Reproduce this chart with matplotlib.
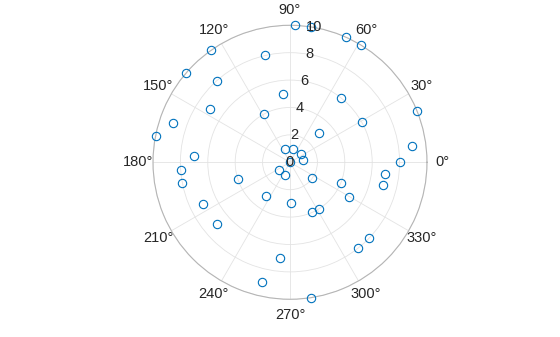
import numpy as np
import matplotlib
matplotlib.use('Agg')
import matplotlib.pyplot as plt

# scatter data (angle in degrees, radius)
theta_deg = [88, 81, 66, 59, 51.5, 22, 29, 45, 7.5, 0,
             353, 346, 337.5, 330, 324, 301.5, 294, 316, 308.5, 279,
             271.5, 264, 257, 235, 220, 205.5, 198, 191, 184, 214,
             249, 176, 169, 161.5, 146.5, 118, 96, 132, 139.5, 125,
             103, 111, 76, 37, 10.5, 0]
rho = [10, 10, 10, 10, 6, 10, 6, 3, 9, 8,
       7, 7, 4, 5, 2, 4, 4, 8, 8, 10,
       3, 7, 9, 3, 7, 7, 4, 8, 8, 1,
       1, 7, 10, 9, 7, 4, 5, 8, 10, 10,
       8, 1, 1, 1, 1, 0]

r_ticks = [0, 2, 4, 6, 8, 10]
theta_ticks = [0, 30, 60, 90, 120, 150, 180, 210, 240, 270, 300, 330]
theta_labels = [f'{t}°' for t in theta_ticks]

plt.rcParams['font.family'] = ['Liberation Sans', 'DejaVu Sans']
TXT = '#262626'

fig = plt.figure(figsize=(5.6, 3.37), dpi=100)
ax = fig.add_axes([0.2732, 0.1119, 0.4893, 0.8131], projection='polar')

ax.plot(np.deg2rad(theta_deg), rho, 'o', mfc='none', mec='#0072BD',
        ms=6, mew=0.8, clip_on=False, zorder=3)

ax.set_ylim(0, 10)
ax.set_yticks(r_ticks)
ax.set_yticklabels([])
for r in r_ticks:
    ax.text(np.deg2rad(80), r, str(r), ha='center', va='center',
            fontsize=10.5, color=TXT, zorder=4)

ax.set_thetagrids(theta_ticks, theta_labels)
ax.tick_params(axis='x', pad=0.5, labelsize=10.5, colors=TXT)
ax.grid(color='#e3e3e3', lw=0.6)
ax.spines['polar'].set_color('#b5b5b5')
ax.spines['polar'].set_linewidth(0.8)

fig.savefig('out.png', dpi=100)
